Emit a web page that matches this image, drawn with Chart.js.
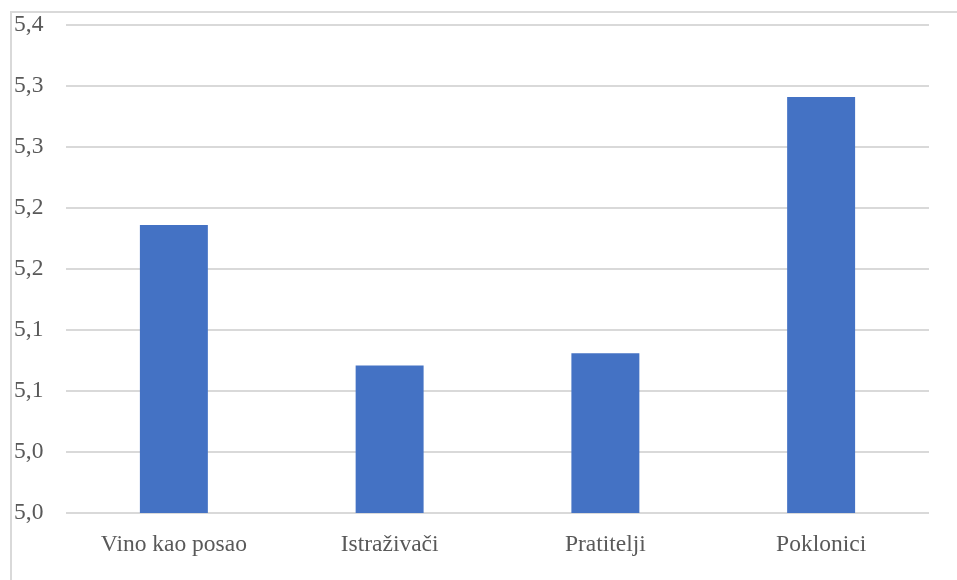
<!DOCTYPE html>
<html><head><meta charset="utf-8">
<script src="https://cdn.jsdelivr.net/npm/chart.js@4"></script>
<style>html,body{margin:0;padding:0;background:#fff;}#wrap{width:957px;height:580px;position:relative;}</style>
</head><body><div id="wrap"><canvas id="c" width="957" height="580"></canvas></div>
<script>
const categories = ["Vino kao posao", "Istraživači", "Pratitelji", "Poklonici"];
const values = [5.236, 5.121, 5.131, 5.341];
const tickLabels = ["5,0", "5,0", "5,1", "5,1", "5,2", "5,2", "5,3", "5,3", "5,4"];

const FONT = "'Liberation Serif', 'Times New Roman', 'DejaVu Serif', serif";

const framePlugin = {
  id: 'frame',
  beforeDraw(chart) {
    const ctx = chart.ctx;
    ctx.save();
    ctx.fillStyle = '#fff';
    ctx.fillRect(0, 0, chart.width, chart.height);
    ctx.strokeStyle = '#d9d9d9';
    ctx.lineWidth = 2;
    ctx.beginPath();
    ctx.moveTo(11, chart.height);
    ctx.lineTo(11, 12);
    ctx.lineTo(chart.width, 12);
    ctx.stroke();
    ctx.restore();
  }
};

function draw() {
  new Chart(document.getElementById('c'), {
    type: 'bar',
    data: {
      labels: categories,
      datasets: [{ data: values, backgroundColor: '#4472C4', borderWidth: 0, categoryPercentage: 1, barPercentage: 0.315 }]
    },
    options: {
      responsive: false,
      animation: false,
      layout: { padding: { left: 14, right: 28, top: 25, bottom: 0 } },
      plugins: { legend: { display: false }, tooltip: { enabled: false } },
      scales: {
        x: {
          afterFit(scale) { scale.height = 67; },
          grid: { display: false, drawTicks: false },
          border: { display: false },
          ticks: { color: '#595959', font: { family: FONT, size: 23.5 }, padding: 18, maxRotation: 0 }
        },
        y: {
          min: 5.0, max: 5.4,
          afterFit(scale) { scale.width = 52; },
          grid: { color: '#d9d9d9', lineWidth: 2, drawTicks: false },
          border: { display: false },
          ticks: {
            stepSize: 0.05,
            crossAlign: 'far',
            padding: 0,
            color: '#595959',
            font: { family: FONT, size: 23.5 },
            callback: (v, i) => tickLabels[i]
          }
        }
      }
    },
    plugins: [framePlugin]
  });
}
if (document.fonts && document.fonts.load) {
  document.fonts.load("23px 'Liberation Serif'").then(draw, draw);
} else { draw(); }
</script></body></html>
